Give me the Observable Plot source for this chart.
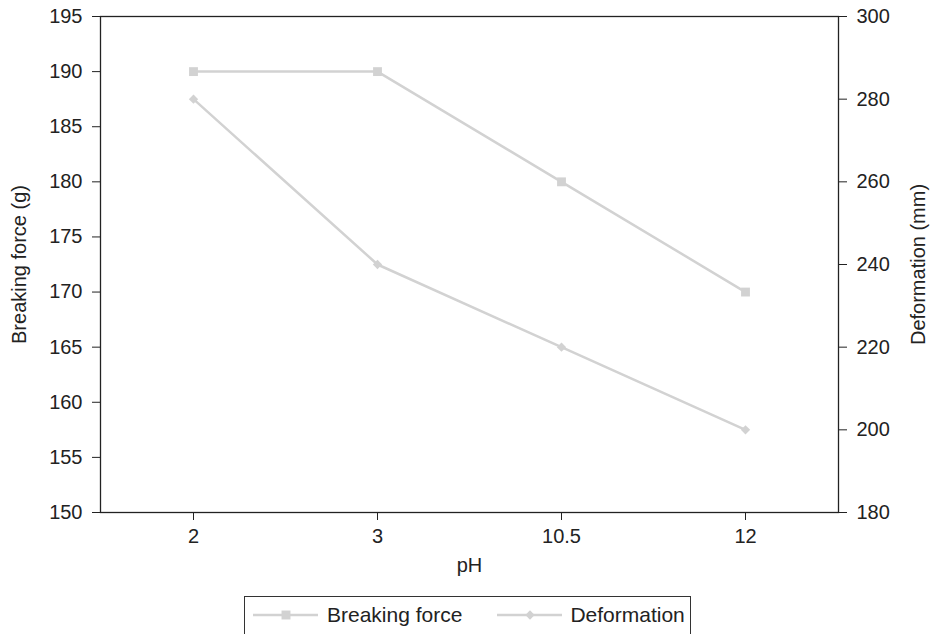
<!DOCTYPE html>
<html>
<head>
<meta charset="utf-8">
<script src="https://cdn.jsdelivr.net/npm/d3@7"></script>
<script src="https://cdn.jsdelivr.net/npm/@observablehq/plot@0.6"></script>
<style>
  html, body { margin: 0; padding: 0; background: #fff; overflow: hidden; }
  #wrap { position: relative; width: 940px; height: 634px; font-family: "Liberation Sans", Arial, Helvetica, sans-serif; color: #222; }
  #legend { position: absolute; left: 244px; top: 596px; width: 447px; height: 44px; border: 1.5px solid #333; box-sizing: border-box;
            display: flex; align-items: flex-start; padding-top: 6px; padding-left: 8px; font-size: 21px; }
  #legend .item { display: flex; align-items: center; }
  #legend svg { display: block; }
</style>
</head>
<body>
<div id="wrap">
  <div id="chart"></div>
  <div id="legend"></div>
</div>
<script>
// ---- data ----
const pH = ["2", "3", "10.5", "12"];
const breakingForce = [190, 190, 180, 170];      // g (left axis)
const deformation = [280, 240, 220, 200];        // mm (right axis)
const leftTicks = [150, 155, 160, 165, 170, 175, 180, 185, 190, 195];
const rightTicks = [180, 200, 220, 240, 260, 280, 300];
const seriesNames = ["Breaking force", "Deformation"];

// ---- map right-axis values onto the left scale ----
const leftDomain = [150, 195];
const rightDomain = [180, 300];
const toLeft = d => leftDomain[0] + (d - rightDomain[0]) * (leftDomain[1] - leftDomain[0]) / (rightDomain[1] - rightDomain[0]);
const toRight = v => rightDomain[0] + (v - leftDomain[0]) * (rightDomain[1] - rightDomain[0]) / (leftDomain[1] - leftDomain[0]);

const bfData = pH.map((p, i) => ({pH: p, value: breakingForce[i]}));
const defData = pH.map((p, i) => ({pH: p, value: toLeft(deformation[i])}));

const lineColor = "#d2d2d2";
const ink = "#222";
const font = "'Liberation Sans', Arial, Helvetica, sans-serif";
const fs = 20;

const chart = Plot.plot({
  width: 940,
  height: 590,
  marginLeft: 100,
  marginRight: 102,
  marginTop: 16,
  marginBottom: 78,
  style: {fontSize: fs + "px", fontFamily: font, color: ink, background: "#fff"},
  x: {type: "point", domain: pH, padding: 0.5},
  y: {domain: leftDomain},
  marks: [
    Plot.line(bfData, {x: "pH", y: "value", stroke: lineColor, strokeWidth: 2.5}),
    Plot.dot(bfData, {x: "pH", y: "value", symbol: "square", r: 5, fill: lineColor, stroke: "none"}),
    Plot.line(defData, {x: "pH", y: "value", stroke: lineColor, strokeWidth: 2.5}),
    Plot.dot(defData, {x: "pH", y: "value", symbol: "diamond2", r: 4.2, fill: lineColor, stroke: "none"}),
    Plot.frame({stroke: ink, strokeWidth: 1.3}),
    Plot.axisX({anchor: "bottom", tickSize: 8, tickPadding: 8, stroke: ink, label: "pH",
                labelAnchor: "center", labelOffset: 59, fontSize: fs}),
    Plot.axisY({anchor: "left", ticks: leftTicks, tickSize: 8, tickPadding: 10, stroke: ink,
                label: "Breaking force (g)", labelAnchor: "center", labelArrow: false, labelOffset: 89, fontSize: fs}),
    Plot.axisY({anchor: "right", ticks: rightTicks.map(toLeft), tickFormat: v => String(Math.round(toRight(v))),
                tickSize: 8, tickPadding: 10, stroke: ink,
                label: "Deformation (mm)", labelAnchor: "center", labelArrow: false, labelOffset: 86, fontSize: fs})
  ]
});
document.getElementById("chart").appendChild(chart);

// ---- legend (HTML below the SVG) ----
const legend = d3.select("#legend");
const symbols = [d3.symbolSquare, d3.symbolDiamond2];
const symSizes = [80, 56];
seriesNames.forEach((name, i) => {
  const item = legend.append("div").attr("class", "item").style("margin-right", i === 0 ? "35px" : "0px");
  const sw = item.append("svg").attr("width", 65).attr("height", 14).style("margin-right", i === 0 ? "9px" : "8px");
  sw.append("line").attr("x1", 0).attr("x2", 65).attr("y1", 7).attr("y2", 7).attr("stroke", lineColor).attr("stroke-width", 2.5);
  sw.append("path").attr("d", d3.symbol(symbols[i], symSizes[i])()).attr("transform", "translate(33,7)").attr("fill", lineColor);
  item.append("span").text(name);
});
</script>
</body>
</html>
